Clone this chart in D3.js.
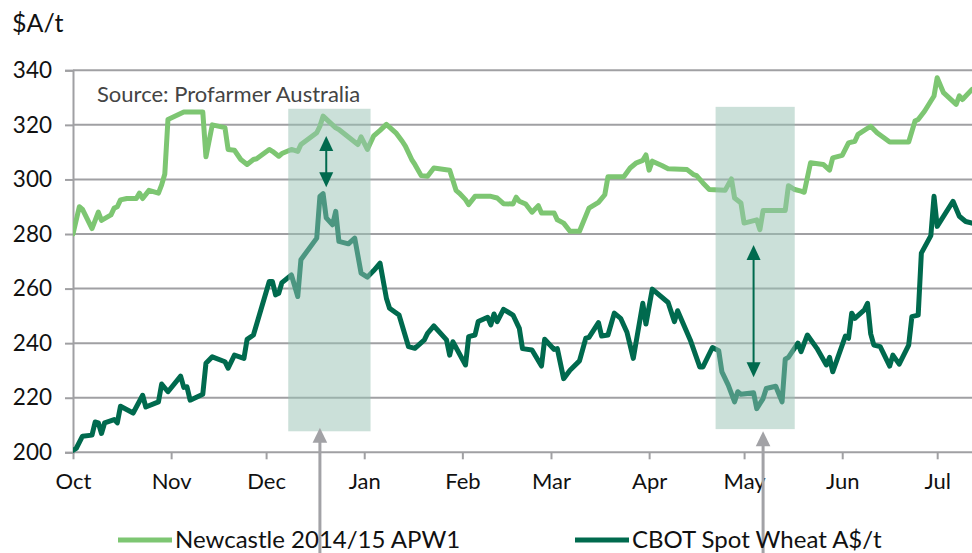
<!DOCTYPE html>
<html>
<head>
<meta charset="utf-8">
<script src="https://cdn.jsdelivr.net/npm/d3@7"></script>
<style>
  html, body { margin: 0; padding: 0; background: #fff; }
  svg { display: block; }
  text { font-family: Lato, "Open Sans", sans-serif; fill: #111; }
</style>
</head>
<body>
<svg id="chart" width="972" height="553"></svg>
<script>
// Newcastle 2014/15 APW1 port price, A$/t
const newcastle = [
  ["2014-10-01",280],["2014-10-03",290],["2014-10-04",289],["2014-10-07",282],["2014-10-09",288],
  ["2014-10-10",285],["2014-10-13",287],["2014-10-14",289.5],["2014-10-15",290],["2014-10-16",292.5],
  ["2014-10-18",293],["2014-10-21",293],["2014-10-22",295],["2014-10-23",293],["2014-10-25",296],
  ["2014-10-28",295],["2014-10-29",298],["2014-10-30",302],["2014-10-31",322],["2014-11-05",324.7],
  ["2014-11-11",324.7],["2014-11-12",308.3],["2014-11-14",320],["2014-11-18",319],["2014-11-19",311],
  ["2014-11-21",310.7],["2014-11-23",307.3],["2014-11-25",305.5],["2014-11-27",307.3],["2014-11-28",307.6],
  ["2014-12-02",311],["2014-12-03",310.3],["2014-12-05",308.5],["2014-12-06",309.5],["2014-12-09",311],
  ["2014-12-11",310.3],["2014-12-12",312.8],["2014-12-17",317.1],["2014-12-18",319.5],["2014-12-19",323.2],
  ["2014-12-23",318.9],["2014-12-24",318.3],["2014-12-30",312.8],["2014-12-31",315.6],["2015-01-02",311],
  ["2015-01-04",316],["2015-01-06",318],["2015-01-08",320.2],["2015-01-11",317.1],["2015-01-13",314],
  ["2015-01-14",312.2],["2015-01-16",307.3],["2015-01-17",305.5],["2015-01-19",301.4],["2015-01-21",301.2],
  ["2015-01-23",304.2],["2015-01-28",303.4],["2015-01-30",296],["2015-01-31",295],["2015-02-02",292.6],
  ["2015-02-03",290.8],["2015-02-05",293.8],["2015-02-10",293.8],["2015-02-12",293.2],["2015-02-14",291.1],
  ["2015-02-17",291],["2015-02-18",293.5],["2015-02-19",292],["2015-02-21",291],["2015-02-23",288],
  ["2015-02-25",290.4],["2015-02-26",287.7],["2015-03-02",287.7],["2015-03-03",285.2],["2015-03-05",284],
  ["2015-03-07",281],["2015-03-10",281],["2015-03-13",289.5],["2015-03-16",291.6],["2015-03-18",294.4],
  ["2015-03-19",301],["2015-03-24",301],["2015-03-26",304.2],["2015-03-28",306.1],["2015-03-30",307],
  ["2015-03-31",309],["2015-04-01",303.4],["2015-04-02",306.7],["2015-04-05",305.1],["2015-04-07",303.9],
  ["2015-04-13",303.6],["2015-04-15",301.8],["2015-04-16",301.4],["2015-04-18",298.7],["2015-04-20",296.3],
  ["2015-04-25",296],["2015-04-27",300.2],["2015-04-28",293.2],["2015-04-30",291.4],["2015-05-01",284],
  ["2015-05-05",285.2],["2015-05-06",281.6],["2015-05-07",288.6],["2015-05-14",288.6],["2015-05-15",297.7],
  ["2015-05-17",296.3],["2015-05-19",295.7],["2015-05-20",295.3],["2015-05-22",306.1],["2015-05-26",305.5],
  ["2015-05-28",303.4],["2015-05-29",307.9],["2015-06-01",308.8],["2015-06-03",313.4],["2015-06-05",314],
  ["2015-06-06",316.5],["2015-06-10",319.5],["2015-06-12",317.1],["2015-06-16",313.7],["2015-06-22",313.7],
  ["2015-06-24",321.4],["2015-06-25",322],["2015-06-27",325],["2015-06-30",330.6],["2015-07-01",337.3],
  ["2015-07-03",331.8],["2015-07-07",327.5],["2015-07-08",330.6],["2015-07-09",329.3],["2015-07-12",333]
];

// CBOT spot wheat converted to A$/t
const cbot = [
  ["2014-10-01",200.7],["2014-10-02",201.4],["2014-10-04",205.9],["2014-10-07",206.3],["2014-10-08",211.1],
  ["2014-10-09",210.8],["2014-10-10",206.9],["2014-10-11",210.8],["2014-10-14",212],["2014-10-15",210.8],
  ["2014-10-16",216.9],["2014-10-20",214.4],["2014-10-23",220.9],["2014-10-24",216.6],["2014-10-28",218.5],
  ["2014-10-29",225],["2014-10-31",222.2],["2014-11-04",227.9],["2014-11-05",223.8],["2014-11-06",224],
  ["2014-11-07",219.1],["2014-11-11",221.3],["2014-11-12",232.6],["2014-11-14",235],["2014-11-18",233.2],
  ["2014-11-19",230.8],["2014-11-21",235.6],["2014-11-24",234.4],["2014-11-25",241.4],["2014-11-27",243],
  ["2014-12-02",262.6],["2014-12-03",262.6],["2014-12-04",257.7],["2014-12-05",258.3],["2014-12-06",262.2],
  ["2014-12-09",265],["2014-12-11",257.1],["2014-12-12",270.6],["2014-12-17",278.5],["2014-12-18",293.8],
  ["2014-12-19",294.8],["2014-12-20",285.9],["2014-12-22",283.4],["2014-12-23",288.3],["2014-12-24",277.3],
  ["2014-12-27",276.4],["2014-12-29",278.5],["2014-12-31",265.7],["2015-01-02",264.2],["2015-01-04",266.6],
  ["2015-01-06",269.3],["2015-01-08",256.5],["2015-01-09",252.8],["2015-01-12",250.3],["2015-01-15",238.7],
  ["2015-01-17",238.1],["2015-01-20",241.2],["2015-01-21",243.6],["2015-01-23",246.3],["2015-01-27",241.2],
  ["2015-01-28",235.6],["2015-01-29",240.5],["2015-02-02",232],["2015-02-03",242.4],["2015-02-05",243],
  ["2015-02-06",247.9],["2015-02-09",249.5],["2015-02-10",246.7],["2015-02-11",250.7],["2015-02-12",247.9],
  ["2015-02-14",252.4],["2015-02-17",250.3],["2015-02-19",245.4],["2015-02-20",238],["2015-02-23",237.5],
  ["2015-02-26",231.6],["2015-02-27",241.4],["2015-03-02",237.7],["2015-03-03",238],["2015-03-05",227],
  ["2015-03-07",230.1],["2015-03-10",233.5],["2015-03-12",241.8],["2015-03-13",242.1],["2015-03-16",247.5],
  ["2015-03-17",242.6],["2015-03-19",243],["2015-03-21",251],["2015-03-23",249.1],["2015-03-25",244],
  ["2015-03-27",234.4],["2015-03-30",254.6],["2015-03-31",247],["2015-04-02",259.8],["2015-04-07",254.9],
  ["2015-04-09",247.9],["2015-04-10",251.9],["2015-04-14",241.2],["2015-04-17",231.3],["2015-04-18",231.3],
  ["2015-04-21",238.4],["2015-04-23",237.2],["2015-04-24",229.5],["2015-04-26",224.6],["2015-04-28",218.5],
  ["2015-04-29",222.2],["2015-04-30",221.3],["2015-05-04",221.8],["2015-05-05",216],["2015-05-07",219.7],
  ["2015-05-08",223.4],["2015-05-11",224.2],["2015-05-13",218.5],["2015-05-14",234.1],["2015-05-15",234.8],
  ["2015-05-18",240],["2015-05-19",236.9],["2015-05-21",243],["2015-05-24",238.1],["2015-05-27",232],
  ["2015-05-28",234.8],["2015-05-29",229.5],["2015-06-02",242.6],["2015-06-03",241.8],["2015-06-04",251],
  ["2015-06-05",249.1],["2015-06-08",252.2],["2015-06-09",254.6],["2015-06-10",243.4],["2015-06-11",239.3],
  ["2015-06-13",238.7],["2015-06-16",231.6],["2015-06-17",235.6],["2015-06-19",232.3],["2015-06-22",239.3],
  ["2015-06-23",249.7],["2015-06-25",250.3],["2015-06-26",273],["2015-06-29",279.4],["2015-06-30",293.8],
  ["2015-07-01",282.8],["2015-07-06",292],["2015-07-08",286.5],["2015-07-10",284.6],["2015-07-12",284]
];

const yTicks = [200, 220, 240, 260, 280, 300, 320, 340];
const seriesNames = ["Newcastle 2014/15 APW1", "CBOT Spot Wheat A$/t"];
const seriesColors = ["#7dc672", "#006a4e"];

// shaded periods (dates and price band) and the annotations drawn on them
const highlights = [
  { start: "2014-12-08", end: "2015-01-03", lo: 207.7, hi: 325.9 },
  { start: "2015-04-22", end: "2015-05-17", lo: 208.5, hi: 326.6 }
];
const spreadArrows = [
  { date: "2014-12-20", from: 297.1, to: 315.9 },
  { date: "2015-05-04", from: 227.5, to: 276 }
];
const pointers = [
  { date: "2014-12-18", value: 209 },
  { date: "2015-05-07", value: 207.7 }
];

const parse = d3.timeParse("%Y-%m-%d");
const svg = d3.select("#chart");
const W = 972, H = 553;
const mLeft = 73, mRight = 972, mTop = 70.3, mBottom = 452.3;

const x = d3.scaleTime()
  .domain([parse("2014-10-01"), parse("2015-07-12")])
  .range([mLeft, mRight]);
const y = d3.scaleLinear().domain([200, 340]).range([mBottom, mTop]);

const grid = "#a0a0a3";

// horizontal gridlines
svg.append("g").selectAll("line").data(yTicks.slice(1)).join("line")
  .attr("x1", mLeft).attr("x2", mRight)
  .attr("y1", d => y(d)).attr("y2", d => y(d))
  .attr("stroke", grid).attr("stroke-width", 2);

// y axis
const yAxis = svg.append("g").attr("transform", `translate(${mLeft},0)`)
  .call(d3.axisLeft(y).tickValues(yTicks).tickSize(8).tickPadding(13).tickFormat(d3.format("d")));
yAxis.select(".domain").attr("stroke", grid).attr("stroke-width", 2);
yAxis.selectAll(".tick line").attr("stroke", grid).attr("stroke-width", 2);
yAxis.selectAll(".tick text").attr("font-size", 22.5).attr("font-family", "Lato").attr("fill", "#111");

// x axis
const months = d3.timeMonth.range(parse("2014-10-01"), parse("2015-07-02"));
const xAxis = svg.append("g").attr("transform", `translate(0,${mBottom})`)
  .call(d3.axisBottom(x).tickValues(months).tickSize(7).tickPadding(14).tickFormat(d3.timeFormat("%b")));
xAxis.select(".domain").attr("d", `M${mLeft},0H${mRight}`).attr("stroke", grid).attr("stroke-width", 2);
xAxis.selectAll(".tick line").attr("stroke", grid).attr("stroke-width", 2);
xAxis.selectAll(".tick text").attr("font-size", 22).attr("font-family", "Lato").attr("fill", "#111");

// unit label and source note
svg.append("text").attr("x", 12).attr("y", 32).attr("font-size", 25).text("$A/t");
svg.append("text").attr("x", 97).attr("y", 102).attr("font-size", 22)
  .style("fill", "#444").text("Source: Profarmer Australia");

// price lines
const line = d3.line().x(d => x(parse(d[0]))).y(d => y(d[1]));
svg.append("defs").append("clipPath").attr("id", "plot")
  .append("rect").attr("x", mLeft).attr("y", 0).attr("width", mRight - mLeft).attr("height", H);
const lines = svg.append("g").attr("clip-path", "url(#plot)");
[newcastle, cbot].forEach((s, i) => {
  lines.append("path").datum(s).attr("d", line)
    .attr("fill", "none").attr("stroke", seriesColors[i])
    .attr("stroke-width", 5).attr("stroke-linejoin", "round").attr("stroke-linecap", "round");
});

// shaded periods over the lines
svg.append("g").selectAll("rect").data(highlights).join("rect")
  .attr("x", d => x(parse(d.start)))
  .attr("width", d => x(parse(d.end)) - x(parse(d.start)))
  .attr("y", d => y(d.hi))
  .attr("height", d => y(d.lo) - y(d.hi))
  .attr("fill", "rgb(152,194,180)").attr("fill-opacity", 0.5);

// spread arrows between the two series
const headW = 7, headH = 15;
const spread = svg.append("g").attr("fill", "#006a4e").attr("stroke", "#006a4e");
spreadArrows.forEach(a => {
  const ax = x(parse(a.date)), yTop = y(a.to), yBot = y(a.from);
  spread.append("line").attr("x1", ax).attr("x2", ax)
    .attr("y1", yTop + headH - 1).attr("y2", yBot - headH + 1).attr("stroke-width", 2);
  spread.append("path").attr("stroke", "none")
    .attr("d", `M${ax},${yTop}L${ax + headW},${yTop + headH}L${ax - headW},${yTop + headH}Z`);
  spread.append("path").attr("stroke", "none")
    .attr("d", `M${ax},${yBot}L${ax + headW},${yBot - headH}L${ax - headW},${yBot - headH}Z`);
});

// grey pointers rising from below the chart
const ptr = svg.append("g").attr("fill", "#a2a2a6").attr("stroke", "#a2a2a6");
pointers.forEach(p => {
  const px = x(parse(p.date)), py = y(p.value);
  ptr.append("line").attr("x1", px).attr("x2", px)
    .attr("y1", py + headH - 1).attr("y2", H + 5).attr("stroke-width", 3);
  ptr.append("path").attr("stroke", "none")
    .attr("d", `M${px},${py}L${px + 7.3},${py + headH}L${px - 7.3},${py + headH}Z`);
});

// legend
const legendX = [118, 575];
const legend = svg.append("g");
seriesNames.forEach((name, i) => {
  legend.append("line").attr("x1", legendX[i]).attr("x2", legendX[i] + 54)
    .attr("y1", 540).attr("y2", 540)
    .attr("stroke", seriesColors[i]).attr("stroke-width", 5);
  legend.append("text").attr("x", legendX[i] + 57).attr("y", 548)
    .attr("font-size", 24).text(name);
});
</script>
</body>
</html>
